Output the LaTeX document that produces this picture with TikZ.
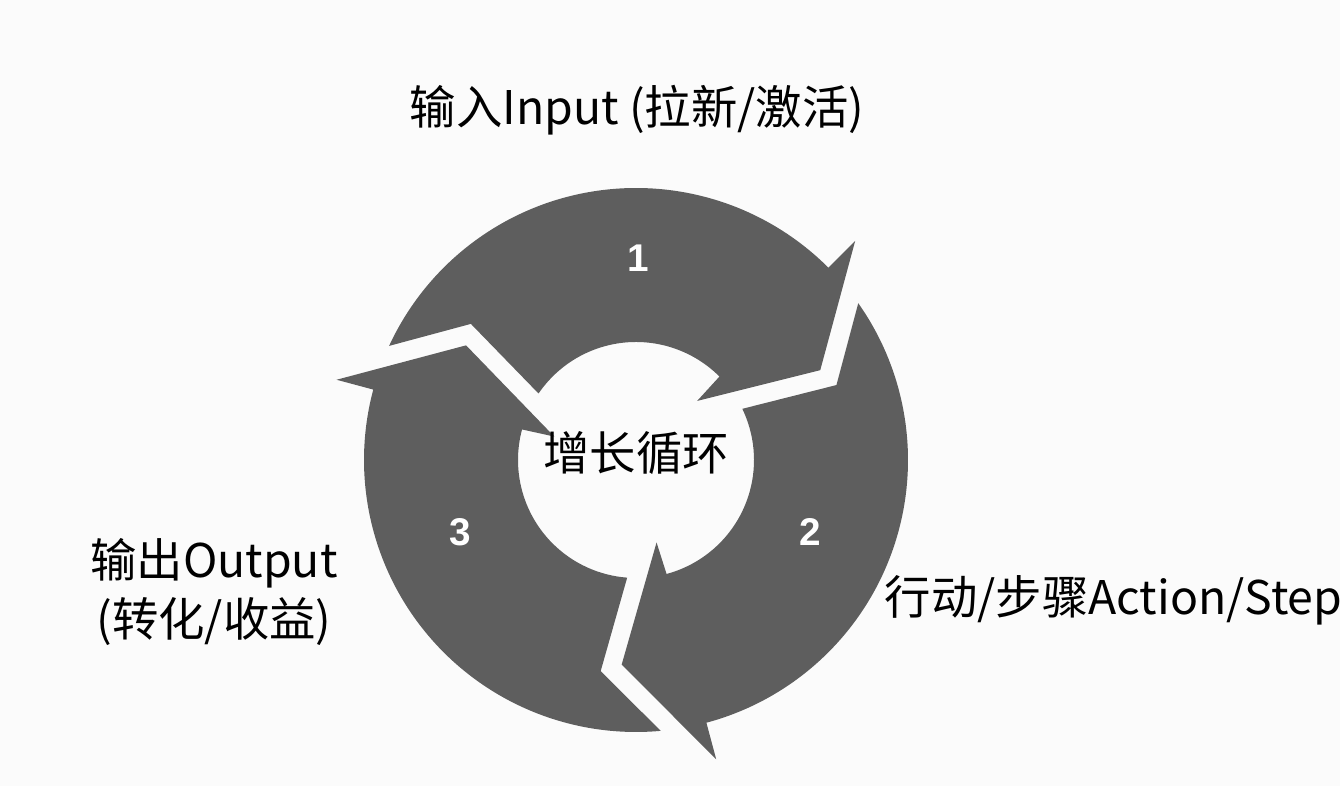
\documentclass[tikz,border=0pt]{standalone}
\usepackage{fontspec}
\setmainfont{Noto Sans CJK SC}
\newfontfamily\numfont{Liberation Sans}
\usetikzlibrary{positioning}
\definecolor{ringgray}{HTML}{5E5E5E}
\definecolor{paper}{HTML}{FBFBFB}

\begin{document}
\begin{tikzpicture}[
  seg/.style={fill=ringgray},
  lbl/.style={inner sep=0pt, text=black, font=\fontsize{13.2}{17}\selectfont},
  num/.style={inner sep=0pt, text=white, font=\numfont\bfseries\fontsize{11}{13}\selectfont}
]
  \useasboundingbox[fill=paper] (0,0) rectangle (13.4,7.86);
  \coordinate (c) at (6.36,3.26);

  % ring segments
  \foreach \a in {0,120,240}
    \fill[seg, shift={(c)}] ({155.2-\a}:2.72)
      arc[start angle=155.2-\a, end angle=45-\a, radius=2.72]
      -- ({45-\a}:3.10) -- ({26-\a}:2.05) -- ({44-\a}:0.85) -- ({45-\a}:1.18)
      arc[start angle=45-\a, end angle=145.7-\a, radius=1.18]
      -- ({140.5-\a}:2.14) -- cycle;

  % numbers
  \node[num] (n1) at (6.38,5.28) {1};
  \node[num] (n2) at (8.10,2.54) {2};
  \node[num] (n3) at (4.60,2.54) {3};

  % labels
  \node[lbl] (core) at (6.36,3.33) {增长循环};
  \node[lbl] (input) at (6.37,6.76) {输入Input (拉新/激活)};
  \node[lbl, anchor=west] (action) at (8.84,1.86) {行动/步骤Action/Step};
  \node[lbl, align=center] (output) at (2.14,1.94) {输出Output\\(转化/收益)};
\end{tikzpicture}
\end{document}
